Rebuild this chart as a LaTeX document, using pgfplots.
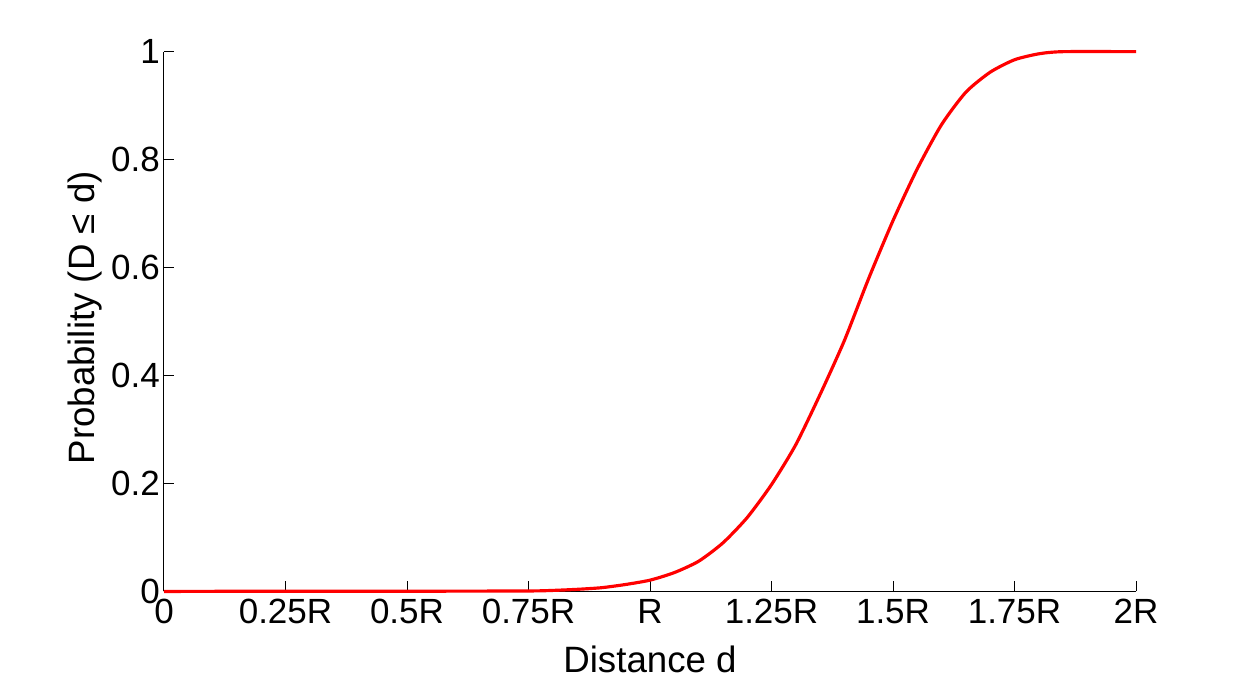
\documentclass[border=0pt]{standalone}
\usepackage{fontspec}
\setmainfont{Liberation Sans}
\usepackage{pgfplots}
\pgfplotsset{compat=1.18}
\begin{document}
\begin{tikzpicture}
\useasboundingbox (-98.4pt,-54.3pt) rectangle (654pt,354.9pt);
\begin{axis}[
  at={(0,0)}, anchor=south west,
  scale only axis,
  width=583.2pt, height=323.9pt,
  xmin=0, xmax=2, ymin=0, ymax=1,
  axis lines*=left,
  axis line style={black, line width=0.6pt},
  tick align=inside,
  major tick length=6pt,
  tick style={black, line width=0.6pt},
  xtick={0,0.25,0.5,0.75,1,1.25,1.5,1.75,2},
  xticklabels={0,0.25R,0.5R,0.75R,R,1.25R,1.5R,1.75R,2R},
  ytick={0,0.2,0.4,0.6,0.8,1},
  yticklabels={0,0.2,0.4,0.6,0.8,1},
  /pgf/number format/assume math mode=true,
  ticklabel style={font=\fontsize{21}{25}\selectfont},
  yticklabel style={xshift=1pt},
  xticklabel style={yshift=-1pt},
  label style={font=\fontsize{22}{26}\selectfont},
  xlabel={Distance d},
  ylabel={Probability (D ≤ d)},
  xlabel style={at={(axis description cs:0.5,-0.125)}, anchor=center},
  ylabel style={at={(axis description cs:-0.0813,0.507)}, anchor=center, rotate=0},
  clip=false,
]
\addplot[red, line width=1.9pt, smooth, tension=0.4] coordinates {
(0,0) (0.1,0.0003) (0.5,0.0005) (0.75,0.001) (0.8,0.002) (0.85,0.004) (0.9,0.007) (0.95,0.013)
(1.0,0.021) (1.05,0.035) (1.1,0.056) (1.15,0.09) (1.2,0.137) (1.25,0.198) (1.3,0.272)
(1.35,0.365) (1.4,0.465) (1.45,0.58) (1.5,0.687) (1.55,0.783) (1.6,0.865) (1.65,0.925)
(1.7,0.962) (1.75,0.985) (1.8,0.996) (1.85,1.0) (2.0,1.0)
};
\end{axis}
\end{tikzpicture}
\end{document}
